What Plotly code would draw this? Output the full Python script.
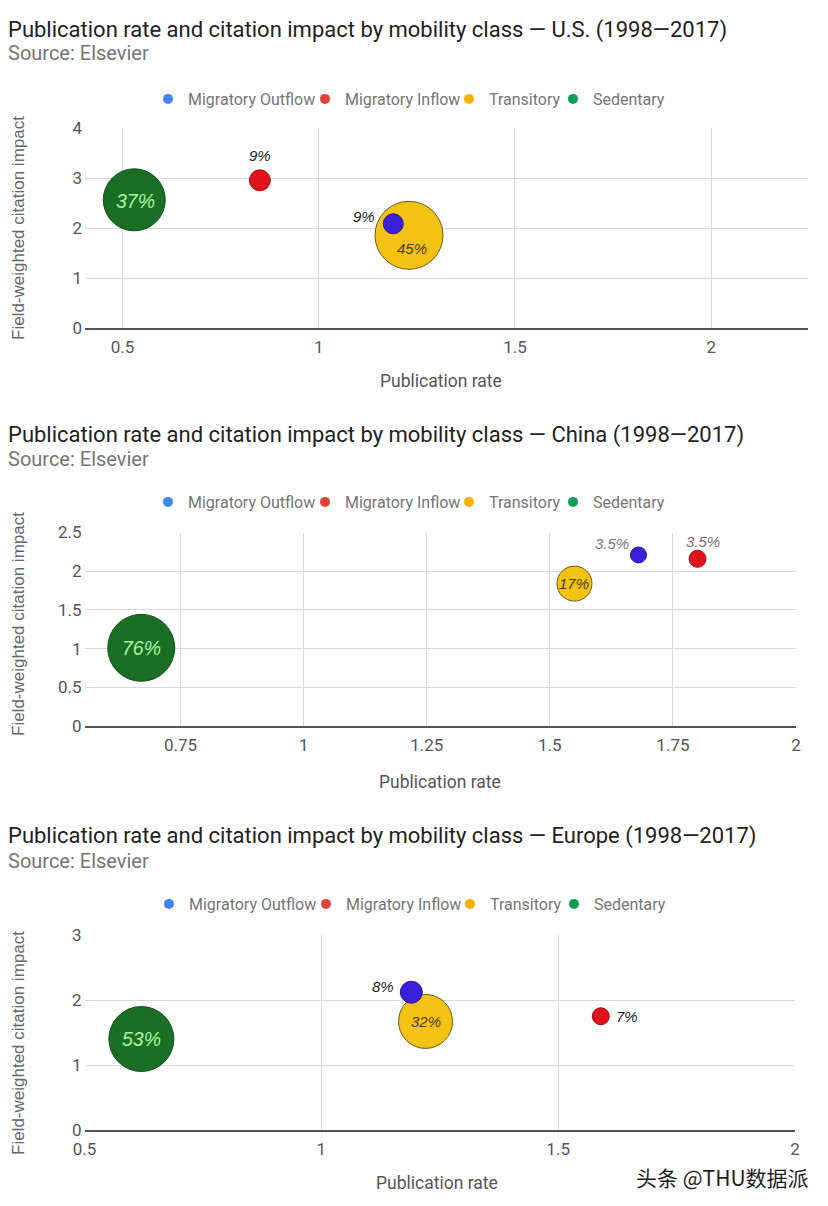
import plotly.graph_objects as go

# ---------------- DATA ----------------
categories = ["Migratory Outflow", "Migratory Inflow", "Transitory", "Sedentary"]

us_pub_rate = [1.19, 0.85, 1.23, 0.53]
us_citation = [2.09, 2.96, 1.86, 2.57]
us_share = ["9%", "9%", "45%", "37%"]

cn_pub_rate = [1.68, 1.80, 1.55, 0.67]
cn_citation = [2.21, 2.16, 1.84, 1.01]
cn_share = ["3.5%", "3.5%", "17%", "76%"]

eu_pub_rate = [1.19, 1.59, 1.22, 0.62]
eu_citation = [2.12, 1.75, 1.67, 1.40]
eu_share = ["8%", "7%", "32%", "53%"]

us_xticks = [0.5, 1, 1.5, 2]
us_xtick_labels = ["0.5", "1", "1.5", "2"]
us_yticks = [0, 1, 2, 3, 4]
us_ytick_labels = ["0", "1", "2", "3", "4"]

cn_xticks = [0.75, 1, 1.25, 1.5, 1.75, 2]
cn_xtick_labels = ["0.75", "1", "1.25", "1.5", "1.75", "2"]
cn_yticks = [0, 0.5, 1, 1.5, 2, 2.5]
cn_ytick_labels = ["0", "0.5", "1", "1.5", "2", "2.5"]

eu_xticks = [0.5, 1, 1.5, 2]
eu_xtick_labels = ["0.5", "1", "1.5", "2"]
eu_yticks = [0, 1, 2, 3]
eu_ytick_labels = ["0", "1", "2", "3"]

titles = [
    "Publication rate and citation impact by mobility class — U.S. (1998—2017)",
    "Publication rate and citation impact by mobility class — China (1998—2017)",
    "Publication rate and citation impact by mobility class — Europe (1998—2017)",
]
source_text = "Source: Elsevier"
x_title = "Publication rate"
y_title = "Field-weighted citation impact"
watermark = "头条 @THU数据派"

# ---------------- STYLE ----------------
W, H = 828, 1206
bubble_colors = ["#3a1fdb", "#e0121b", "#f2c315", "#1b6f25"]
bubble_lines = ["#2b1790", "#9e0f14", "#6e5a12", "#134f1b"]
legend_colors = ["#4285f4", "#db4437", "#f4b400", "#0f9d58"]
legend_entry_widths = [112, 99, 59, 80]
label_font = "Liberation Sans, Arial, sans-serif"
ui_font = "Roboto, sans-serif"


def px_x(p):
    return p / W


def px_y(p):
    return 1 - p / H


charts = [
    dict(
        x=us_pub_rate, y=us_citation, share=us_share,
        xticks=us_xticks, xlabels=us_xtick_labels,
        yticks=us_yticks, ylabels=us_ytick_labels,
        xrange=[0.4044, 2.2467], yrange=[0, 4],
        xdom=[85, 808], ydom=[128.3, 328.3],
        diam=[20, 21, 68, 62],
        shifts=[(-29, 7), (0, 25), (3, -13), (1, -1)],
        lcolors=["#222222", "#222222", "#4a3c00", "#a8f59e"],
        lsizes=[15, 15, 15, 19.5],
        title_y=30, source_y=53, legend_y=99, legend_x=148, xt_y=381, xt_x=441, yt_y=228,
    ),
    dict(
        x=cn_pub_rate, y=cn_citation, share=cn_share,
        xticks=cn_xticks, xlabels=cn_xtick_labels,
        yticks=cn_yticks, ylabels=cn_ytick_labels,
        xrange=[0.5548, 2.0], yrange=[0, 2.5],
        xdom=[84.5, 796], ydom=[532.5, 726],
        diam=[16, 17, 35, 67],
        shifts=[(-26, 11), (5, 17), (0, 0), (0, 0)],
        lcolors=["#777777", "#7a6a6a", "#4a3c00", "#a8f59e"],
        lsizes=[15, 15, 15, 19.5],
        title_y=435, source_y=459, legend_y=502, legend_x=148, xt_y=782, xt_x=440, yt_y=624,
    ),
    dict(
        x=eu_pub_rate, y=eu_citation, share=eu_share,
        xticks=eu_xticks, xlabels=eu_xtick_labels,
        yticks=eu_yticks, ylabels=eu_ytick_labels,
        xrange=[0.5, 2.0], yrange=[0, 3],
        xdom=[84.5, 795], ydom=[935, 1130],
        diam=[22, 17, 54, 65],
        shifts=[(-28, 6), (26, 0), (0, 0), (0, 0)],
        lcolors=["#222222", "#222222", "#4a3c00", "#a8f59e"],
        lsizes=[15, 15, 15, 19.5],
        title_y=836, source_y=861, legend_y=904, legend_x=149, xt_y=1183, xt_x=437, yt_y=1043,
    ),
]

fig = go.Figure()
annotations = []
layout_axes = {}

for ci, c in enumerate(charts):
    n = "" if ci == 0 else str(ci + 1)
    xa, ya = "x" + n, "y" + n
    lg = "legend" + n

    # bubbles: draw largest first so small ones sit on top
    order = sorted(range(len(categories)), key=lambda i: -c["diam"][i])
    for i in order:
        fig.add_trace(go.Scatter(
            x=[c["x"][i]], y=[c["y"][i]], mode="markers",
            name=categories[i], showlegend=False,
            xaxis=xa, yaxis=ya, cliponaxis=False,
            marker=dict(size=c["diam"][i], color=bubble_colors[i],
                        line=dict(color=bubble_lines[i], width=1), opacity=1),
            hovertemplate="%{x}, %{y}<extra>" + categories[i] + "</extra>",
        ))
    # legend entries (legend dots use the lighter palette)
    for i in range(len(categories)):
        fig.add_trace(go.Scatter(
            x=[None], y=[None], mode="markers", name=categories[i],
            legend=lg, xaxis=xa, yaxis=ya, showlegend=True,
            legendwidth=legend_entry_widths[i],
            marker=dict(size=10, color=legend_colors[i]),
        ))

    # bubble labels
    for i in range(len(categories)):
        dx, dy = c["shifts"][i]
        annotations.append(dict(
            x=c["x"][i], y=c["y"][i], xref=xa, yref=ya,
            text="<i>" + c["share"][i] + "</i>", showarrow=False,
            xshift=dx, yshift=dy,
            font=dict(family=label_font, size=c["lsizes"][i], color=c["lcolors"][i]),
        ))

    # titles
    annotations.append(dict(
        x=px_x(6), y=px_y(c["title_y"]), xref="paper", yref="paper",
        xanchor="left", yanchor="middle", showarrow=False, text=titles[ci],
        font=dict(family=ui_font, size=22, color="#222222"),
    ))
    annotations.append(dict(
        x=px_x(6), y=px_y(c["source_y"]), xref="paper", yref="paper",
        xanchor="left", yanchor="middle", showarrow=False, text=source_text,
        font=dict(family=ui_font, size=20, color="#757575"),
    ))
    # axis titles
    annotations.append(dict(
        x=px_x(c["xt_x"]), y=px_y(c["xt_y"]), xref="paper", yref="paper",
        xanchor="center", yanchor="middle", showarrow=False, text=x_title,
        font=dict(family=ui_font, size=17.5, color="#555555"),
    ))
    annotations.append(dict(
        x=px_x(18), y=px_y(c["yt_y"]), xref="paper", yref="paper",
        xanchor="center", yanchor="middle", showarrow=False, text=y_title,
        textangle=-90,
        font=dict(family=label_font, size=17, color="#666666"),
    ))

    layout_axes["xaxis" + n] = dict(
        domain=[px_x(c["xdom"][0]), px_x(c["xdom"][1])],
        range=c["xrange"], anchor=ya, automargin=False,
        tickmode="array", tickvals=c["xticks"], ticktext=c["xlabels"],
        showgrid=True, gridcolor="#d9d9d9", gridwidth=1,
        zeroline=False, showline=True, linecolor="#555555", linewidth=1.5,
        ticks="", ticklabelstandoff=3,
        tickfont=dict(family=ui_font, size=17, color="#555555"),
        fixedrange=True,
    )
    layout_axes["yaxis" + n] = dict(
        domain=[px_y(c["ydom"][1]), px_y(c["ydom"][0])],
        range=c["yrange"], anchor=xa, automargin=False,
        tickmode="array", tickvals=c["yticks"], ticktext=c["ylabels"],
        showgrid=True, gridcolor="#d9d9d9", gridwidth=1,
        zeroline=False, showline=False, ticks="", ticklabelstandoff=2,
        tickfont=dict(family=ui_font, size=17, color="#555555"),
        fixedrange=True,
    )
    layout_axes[lg] = dict(
        orientation="h", x=px_x(c["legend_x"]), y=px_y(c["legend_y"]),
        xanchor="left", yanchor="middle", bgcolor="rgba(0,0,0,0)",
        font=dict(family=ui_font, size=16, color="#757575"),
        itemclick=False, itemdoubleclick=False, tracegroupgap=0,
    )

annotations.append(dict(
    x=px_x(811), y=px_y(1177), xref="paper", yref="paper",
    xanchor="right", yanchor="middle", showarrow=False, text=watermark,
    font=dict(family="Noto Sans CJK SC, sans-serif", size=21, color="#1e1e1e"),
))

fig.update_layout(
    width=W, height=H,
    margin=dict(l=0, r=0, t=0, b=0, autoexpand=False),
    paper_bgcolor="white", plot_bgcolor="white",
    annotations=annotations,
    **layout_axes,
)

fig.write_html(
    "out.html",
    config={"displayModeBar": False},
    post_script="document.body.style.margin='0px';document.body.style.overflow='hidden';",
)
